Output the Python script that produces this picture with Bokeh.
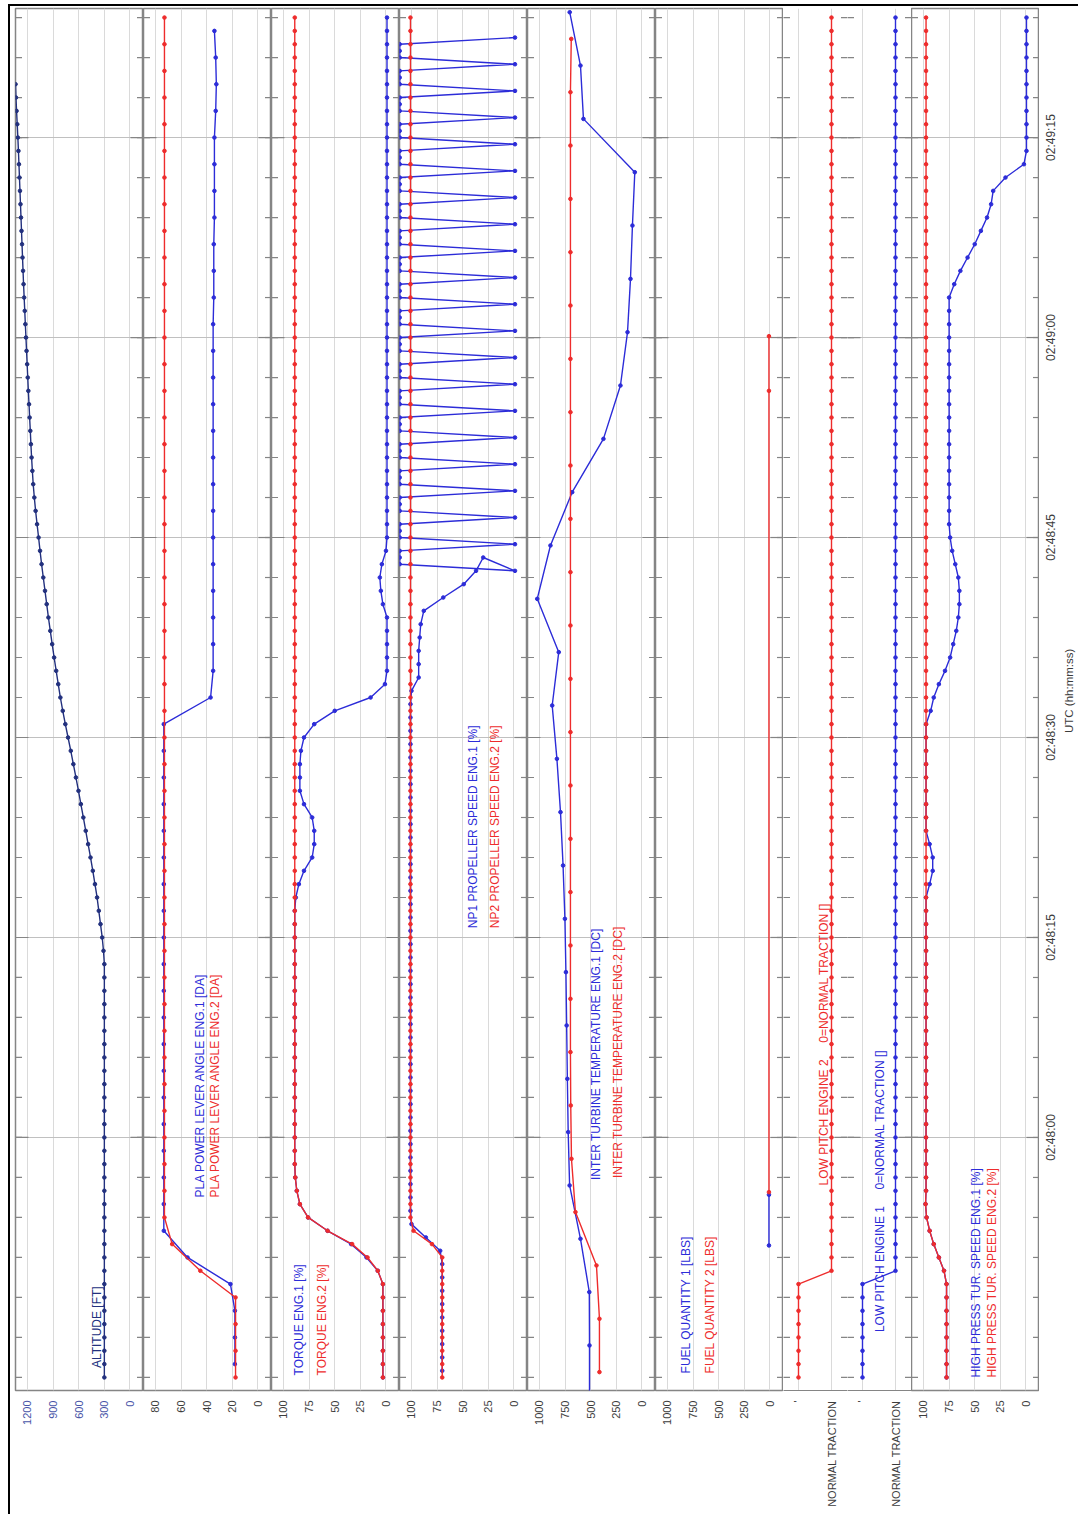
import math
from bokeh.plotting import figure
from bokeh.layouts import row, column
from bokeh.models import Range1d, FixedTicker, Div
from bokeh.core.properties import value
from bokeh.embed import file_html
from bokeh.resources import INLINE

# ---------------- data (time = seconds after 02:48:00 UTC) ----------------
time_ticks = [0, 15, 30, 45, 60, 75]
time_tick_labels = ["02:48:00", "02:48:15", "02:48:30", "02:48:45", "02:49:00", "02:49:15"]
time_minor_ticks = [-18, -15, -12, -9, -6, -3, 0, 3, 6, 9, 12, 15, 18, 21, 24, 27, 30, 33, 36, 39,
                    42, 45, 48, 51, 54, 57, 60, 63, 66, 69, 72, 75, 78, 81, 84]
time_axis_title = "UTC (hh:mm:ss)"

alt_ticks = [1200, 900, 600, 300, 0]
pla_ticks = [80, 60, 40, 20, 0]
pct_ticks = [100, 75, 50, 25, 0]
k_ticks = [1000, 750, 500, 250, 0]
lp_ticks = [1, 0]
lp_tick_labels = ["'", "NORMAL TRACTION"]

altitude_t0 = -18
altitude_ft = [
    300, 300, 300, 300, 300, 300, 300, 300, 300, 300, 300, 300, 300, 300, 300, 300,
    300, 300, 300, 300, 300, 300, 300, 300, 300, 300, 300, 300, 300, 300, 300, 300,
    310, 325, 345, 365, 385, 410, 435, 462, 490, 518, 546, 575, 603, 633, 663, 693,
    725, 757, 787, 815, 840, 864, 888, 911, 933, 955, 975, 995, 1015, 1035, 1053, 1070,
    1088, 1105, 1120, 1133, 1143, 1152, 1160, 1167, 1175, 1182, 1190, 1197, 1204, 1211, 1218, 1225,
    1232, 1239, 1246, 1252, 1258, 1264, 1270, 1276, 1282, 1288, 1294, 1300, 1306, 1313, 1320, 1328,
    1335, 1340]

pla1_t0 = -17   # every 2 s
pla1_deg = [
    18, 18, 18, 21.5, 55, 73.5,
    73.5, 73.5, 73.5, 73.5, 73.5, 73.5, 73.5, 73.5, 73.5, 73.5,
    73.5, 73.5, 73.5, 73.5, 73.5, 73.5, 73.5, 73.5, 73.5,
    37,
    35, 35, 35, 35, 35, 35, 35, 35, 35, 35, 35, 35, 35, 35,
    34.5, 34.5, 34.5, 34, 34, 34, 34, 33, 32.5, 33, 34]
pla2_t0 = -18   # every 2 s
pla2_deg = [
    17.5, 17.5, 17.5, 17.5, 45, 67, 73,
    73, 73, 73, 73, 73, 73, 73, 73, 73, 73, 73, 73, 73, 73, 73,
    73, 73, 73, 73, 73, 73, 73, 73, 73, 73, 73, 73, 73, 73, 73,
    73, 73, 73, 73, 73, 73, 73, 73, 73, 73, 73, 73, 73, 73, 73]

torque_t0 = -18
torque1_pct = [
    3, 3, 3, 3, 3, 3, 3, 3, 8, 19, 34, 57, 76, 84, 87, 88.5,
    89, 89, 89, 89, 89, 89, 89, 89, 89, 89, 89, 89, 89, 89, 89, 89, 89, 89, 89, 89,
    88, 85, 80, 72, 70, 70, 72, 80, 84, 84, 84, 83, 80, 70, 50, 15, 1,
    -1, -1, -1, -1, -1, 3, 5, 6, 4, 0,
    -1, -1, -1, -1, -1, -1, -1, -1, -1, -1, -1, -1, -1, -1, -1, -1, -1, -1, -1, -1,
    -1, -1, -1, -1, -1, -1, -1, -1, -1, -1, -1, -1, -1, -1, -1, -1, -1, -1, -1, -1]
torque2_pct = [
    3, 3, 3, 3, 3, 3, 3, 3, 8, 18, 33, 57, 76, 84, 87, 88.5,
    89, 89, 89, 89, 89, 89, 89, 89, 89, 89, 89, 89, 89, 89, 89, 89, 89, 89, 89, 89,
    89, 89, 89, 89, 89, 89, 89, 89, 89, 89, 89, 89, 89, 89, 89, 89, 89, 89, 89, 89,
    89, 89, 89, 89, 89, 89, 89, 89, 89, 89, 89, 89, 89, 89, 89, 89, 89, 89, 89, 89,
    89, 89, 89, 89, 89, 89, 89, 89, 89, 89, 89, 89, 89, 89, 89, 89, 89, 89, 89, 89,
    89, 89, 89, 89, 89, 89, 89]

np1_t0 = -17.5   # every 1 s
np1_pct = [
    70, 70, 70, 70, 70, 70, 70, 70, 70, 72, 86, 100,
    101, 101, 101, 101, 101, 101, 101, 101, 101, 101, 101, 101, 101, 101, 101, 101, 101,
    101, 101, 101, 101, 101, 101, 101, 101, 101, 101, 101, 101, 101, 101, 101, 101, 101,
    101, 101, 101, 101, 101, 100, 93, 93, 93, 92, 91, 88, 69, 49, 37, 30]
np1_saw_t0 = 42.5   # every 0.5 s
np1_saw_pct = [
    -1, 111.5, 111.5, 111.5, -1, 111.5, 111.5, 111.5, -1, 111.5, 111.5, 111.5,
    -1, 111.5, 111.5, 111.5, -1, 111.5, 111.5, 111.5, -1, 111.5, 111.5, 111.5,
    -1, 111.5, 111.5, 111.5, -1, 111.5, 111.5, 111.5, -1, 111.5, 111.5, 111.5,
    -1, 111.5, 111.5, 111.5, -1, 111.5, 111.5, 111.5, -1, 111.5, 111.5, 111.5,
    -1, 111.5, 111.5, 111.5, -1, 111.5, 111.5, 111.5, -1, 111.5, 111.5, 111.5,
    -1, 111.5, 111.5, 111.5, -1, 111.5, 111.5, 111.5, -1, 111.5, 111.5, 111.5,
    -1, 111.5, 111.5, 111.5, -1, 111.5, 111.5, 111.5, -1]
np2_t0 = -18
np2_pct = [
    70, 70, 70, 70, 70, 70, 70, 70, 70, 70, 80, 98,
    101, 101, 101, 101, 101, 101, 101, 101, 101, 101, 101, 101, 101, 101, 101, 101, 101, 101,
    101, 101, 101, 101, 101, 101, 101, 101, 101, 101, 101, 101, 101, 101, 101, 101, 101, 101,
    101, 101, 101, 101, 101, 101, 101, 101, 101, 101, 101, 101, 101, 101, 101, 101, 101, 101,
    101, 101, 101, 101, 101, 101, 101, 101, 101, 101, 101, 101, 101, 101, 101, 101, 101, 101,
    101, 101, 101, 101, 101, 101, 101, 101, 101, 101, 101, 101, 101, 101, 101, 101, 101, 101,
    101]

itt1_t0 = -19.6   # every 4 s
itt1_dc = [512, 512, 514, 600, 706, 720, 728, 735, 742, 752, 770, 795, 830, 876,
           812, 1022, 893, 681, 376, 210, 141, 112, 93, 70, 571, 600, 705]
itt2_t0 = -17.6   # every 4 s
itt2_dc = [415, 415, 444, 649, 688, 695, 698, 698, 698, 698, 698, 698, 698,
           698, 698, 698, 698, 698, 698, 698, 698, 698, 698, 698, 698, 690]

fuel1_t = [-8.1, -4.3]
fuel1_lbs = [10, 10]
fuel2_t = [-4.1, 56.0, 60.1]
fuel2_lbs = [10, 10, 10]

lp_t0 = -18
lp2_state = [
    1, 1, 1, 1, 1, 1, 1, 1,
    0, 0, 0, 0, 0, 0, 0, 0, 0, 0, 0, 0, 0, 0, 0, 0, 0, 0, 0, 0,
    0, 0, 0, 0, 0, 0, 0, 0, 0, 0, 0, 0, 0, 0, 0, 0, 0, 0, 0, 0,
    0, 0, 0, 0, 0, 0, 0, 0, 0, 0, 0, 0, 0, 0, 0, 0, 0, 0, 0, 0,
    0, 0, 0, 0, 0, 0, 0, 0, 0, 0, 0, 0, 0, 0, 0, 0, 0, 0, 0, 0,
    0, 0, 0, 0, 0, 0, 0, 0, 0, 0, 0, 0, 0, 0, 0]
lp1_state = [
    1, 1, 1, 1, 1, 1, 1, 1,
    0, 0, 0, 0, 0, 0, 0, 0, 0, 0, 0, 0, 0, 0, 0, 0, 0, 0, 0, 0,
    0, 0, 0, 0, 0, 0, 0, 0, 0, 0, 0, 0, 0, 0, 0, 0, 0, 0, 0, 0,
    0, 0, 0, 0, 0, 0, 0, 0, 0, 0, 0, 0, 0, 0, 0, 0, 0, 0, 0, 0,
    0, 0, 0, 0, 0, 0, 0, 0, 0, 0, 0, 0, 0, 0, 0, 0, 0, 0, 0, 0,
    0, 0, 0, 0, 0, 0, 0, 0, 0, 0, 0, 0, 0, 0, 0]

hp_t0 = -18
hp1_pct = [
    77.5, 77.5, 77.5, 77.5, 77.5, 77.5, 77.5, 77.5, 80, 85, 90, 94, 97, 98,
    97.5, 97.5, 97.5, 97.5, 97.5, 97.5, 97.5, 97.5, 97.5, 97.5, 97.5, 97.5,
    97.5, 97.5, 97.5, 97.5, 97.5, 97.5, 97.5, 97.5, 97.5, 97.5, 97.5,
    94, 91, 91, 94,
    97.5, 97.5, 97.5, 97.5, 97.5, 97.5, 97.5, 97.5, 97.5,
    93, 90, 85, 79, 74, 71, 68, 66, 65, 65, 66, 69, 72, 74,
    75, 75, 75, 75, 75, 75, 75, 75, 75, 75, 75, 75, 75, 75, 75, 75, 75, 75,
    70, 64, 57, 50, 44, 38, 34, 32, 20, 2,
    -0.5, -0.5, -0.5, -0.5, -0.5, -0.5, -0.5, -0.5, -0.5, -0.5, -0.5]
hp2_pct = [
    77.5, 77.5, 77.5, 77.5, 77.5, 77.5, 77.5, 77.5, 80, 85, 90, 94, 97, 98,
    97.5, 97.5, 97.5, 97.5, 97.5, 97.5, 97.5, 97.5, 97.5, 97.5, 97.5, 97.5, 97.5, 97.5, 97.5,
    97.5, 97.5, 97.5, 97.5, 97.5, 97.5, 97.5, 97.5, 97.5, 97.5, 97.5, 97.5, 97.5, 97.5, 97.5,
    97.5, 97.5, 97.5, 97.5, 97.5, 97.5, 97.5, 97.5, 97.5, 97.5, 97.5, 97.5, 97.5, 97.5, 97.5,
    97.5, 97.5, 97.5, 97.5, 97.5, 97.5, 97.5, 97.5, 97.5, 97.5, 97.5, 97.5, 97.5, 97.5, 97.5,
    97.5, 97.5, 97.5, 97.5, 97.5, 97.5, 97.5, 97.5, 97.5, 97.5, 97.5, 97.5, 97.5, 97.5, 97.5,
    97.5, 97.5, 97.5, 97.5, 97.5, 97.5, 97.5, 97.5, 97.5, 97.5, 97.5, 97.5, 97.5, 97.5]

# ---------------- style / layout ----------------
FONT = "Liberation Sans"
BLUE = "#2c2cd8"
RED = "#ee2c2c"
NAVY = "#22307e"
SEP = "#858585"
TICK_TXT = "#3c3c3c"
ALT_TICK_TXT = "#4a56a8"
FRAME_H = 1382
TOP = 2
BOTTOM = 124
FIG_H = TOP + FRAME_H + BOTTOM
PANEL_W = 128
TIME_COL_W = 39
Y0, Y1 = -18.98, 84.68
HI, LO = 1.117, -0.132
NB = "\u00a0"
FRAME_W = {}


def times(t0, vals, step=1.0):
    return [t0 + step * i for i in range(len(vals))]


def make_panel(x_start, x_end, ticks, tick_labels, frame_w=PANEL_W, pad_left=0,
               label_color=TICK_TXT, outline=True):
    p = figure(width=frame_w + pad_left, height=FIG_H,
               x_range=Range1d(x_start, x_end), y_range=Range1d(Y0, Y1),
               output_backend="svg", toolbar_location=None, y_axis_location=None,
               min_border_left=pad_left, min_border_right=0,
               min_border_top=TOP, min_border_bottom=BOTTOM)
    p.xaxis.ticker = FixedTicker(ticks=ticks)
    p.xaxis.major_label_overrides = {t: s for t, s in zip(ticks, tick_labels)}
    p.xaxis.major_label_orientation = math.pi / 2
    p.xaxis.major_label_text_font = FONT
    p.xaxis.major_label_text_font_size = "11px"
    p.xaxis.major_label_text_color = label_color
    p.xaxis.major_label_standoff = 4
    p.xaxis.major_tick_line_color = None
    p.xaxis.minor_tick_line_color = None
    p.xaxis.axis_line_color = None if outline else SEP
    p.xgrid.grid_line_color = "#dadada"
    p.ygrid.ticker = FixedTicker(ticks=time_ticks)
    p.ygrid.grid_line_color = "#c0c0c0"
    p.outline_line_color = SEP if outline else None
    p.outline_line_width = 1.5
    for xe in (x_start, x_end):
        p.scatter([xe] * len(time_minor_ticks), time_minor_ticks, marker="dash", size=13,
                  line_color=SEP, line_width=1.2)
        p.scatter([xe] * len(time_ticks), time_ticks, marker="dash", size=26,
                  line_color=SEP, line_width=1.2)
    FRAME_W[id(p)] = frame_w
    return p


def series(p, t, v, color):
    p.line(v, t, line_color=color, line_width=1.4)
    p.scatter(v, t, size=3.6, fill_color=color, line_color=color)


def label(p, px, t, s, color):
    xr = p.x_range
    x = xr.start - px / FRAME_W[id(p)] * (xr.start - xr.end)
    p.text(x=[x], y=[t], text=[s], angle=math.pi / 2, text_align="left",
           text_baseline="middle", text_font=value(FONT), text_font_size="12px",
           text_color=color)


def str_labels(ticks):
    return [str(t) for t in ticks]


f_alt = make_panel(HI * 1200, LO * 1200, alt_ticks, str_labels(alt_ticks), pad_left=5,
                   label_color=ALT_TICK_TXT)
f_pla = make_panel(HI * 80, LO * 80, pla_ticks, str_labels(pla_ticks))
f_trq = make_panel(HI * 100, LO * 100, pct_ticks, str_labels(pct_ticks))
f_np = make_panel(HI * 100, LO * 100, pct_ticks, str_labels(pct_ticks))
f_itt = make_panel(HI * 1000, LO * 1000, k_ticks, str_labels(k_ticks))
f_fuel = make_panel(HI * 1000, LO * 1000, k_ticks, str_labels(k_ticks))
f_lp2 = make_panel(1.4545, -0.4848, lp_ticks, lp_tick_labels, frame_w=64, outline=False)
f_lp1 = make_panel(1.4545, -0.4848, lp_ticks, lp_tick_labels, frame_w=64, outline=False)
f_hp = make_panel(HI * 100, LO * 100, pct_ticks, str_labels(pct_ticks))

# time-axis labels column (UTC), text centred on each time tick
f_time = figure(width=TIME_COL_W, height=FIG_H, x_range=Range1d(0, TIME_COL_W),
                y_range=Range1d(Y0, Y1), output_backend="svg", toolbar_location=None,
                x_axis_location=None, y_axis_location=None,
                min_border_left=0, min_border_right=0, min_border_top=TOP,
                min_border_bottom=BOTTOM)
f_time.outline_line_color = None
f_time.grid.visible = False
f_time.text(x=[11] * len(time_ticks), y=time_ticks, text=time_tick_labels, angle=math.pi / 2,
            text_align="center", text_baseline="middle", text_font=value(FONT),
            text_font_size="12px", text_color=TICK_TXT)
f_time.text(x=[29], y=[33.5], text=[time_axis_title], angle=math.pi / 2,
            text_align="center", text_baseline="middle", text_font=value(FONT),
            text_font_size="11.5px", text_color=TICK_TXT)

# series
series(f_alt, times(altitude_t0, altitude_ft), altitude_ft, NAVY)
series(f_pla, times(pla1_t0, pla1_deg, 2), pla1_deg, BLUE)
series(f_pla, times(pla2_t0, pla2_deg, 2), pla2_deg, RED)
series(f_trq, times(torque_t0, torque1_pct), torque1_pct, BLUE)
series(f_trq, times(torque_t0, torque2_pct), torque2_pct, RED)
np1_all_t = times(np1_t0, np1_pct) + times(np1_saw_t0, np1_saw_pct, 0.5)
series(f_np, np1_all_t, np1_pct + np1_saw_pct, BLUE)
series(f_np, times(np2_t0, np2_pct), np2_pct, RED)
series(f_itt, times(itt1_t0, itt1_dc, 4), itt1_dc, BLUE)
series(f_itt, times(itt2_t0, itt2_dc, 4), itt2_dc, RED)
series(f_fuel, fuel1_t, fuel1_lbs, BLUE)
series(f_fuel, fuel2_t, fuel2_lbs, RED)
series(f_lp2, times(lp_t0, lp2_state), lp2_state, RED)
series(f_lp1, times(lp_t0, lp1_state), lp1_state, BLUE)
series(f_hp, times(hp_t0, hp1_pct), hp1_pct, BLUE)
series(f_hp, times(hp_t0, hp2_pct), hp2_pct, RED)

# in-panel labels
label(f_alt, 81, -17.3, "ALTITUDE [FT]", NAVY)
label(f_pla, 56, -4.5, "PLA POWER LEVER ANGLE ENG.1 [DA]", BLUE)
label(f_pla, 71, -4.5, "PLA POWER LEVER ANGLE ENG.2 [DA]", RED)
label(f_trq, 27, -17.85, "TORQUE ENG.1 [%]", BLUE)
label(f_trq, 50, -17.85, "TORQUE ENG.2 [%]", RED)
label(f_np, 73, 15.7, "NP1 PROPELLER SPEED ENG.1 [%]", BLUE)
label(f_np, 95, 15.7, "NP2 PROPELLER SPEED ENG.2 [%]", RED)
label(f_itt, 68, -3.2, "INTER TURBINE TEMPERATURE ENG.1 [DC]", BLUE)
label(f_itt, 90, -3.05, "INTER TURBINE TEMPERATURE ENG.2 [DC]", RED)
label(f_fuel, 30, -17.7, "FUEL QUANTITY 1 [LBS]", BLUE)
label(f_fuel, 54, -17.7, "FUEL QUANTITY 2 [LBS]", RED)
label(f_lp2, 40, -3.6, "LOW PITCH ENGINE 2" + NB * 5 + "0=NORMAL TRACTION []", RED)
label(f_lp1, 32.5, -14.6, "LOW PITCH ENGINE 1" + NB * 5 + "0=NORMAL TRACTION []", BLUE)
label(f_hp, 64, -18.0, "HIGH PRESS TUR. SPEED ENG.1 [%]", BLUE)
label(f_hp, 80, -18.0, "HIGH PRESS TUR. SPEED ENG.2 [%]", RED)

figs = [f_alt, f_pla, f_trq, f_np, f_itt, f_fuel, f_lp2, f_lp1, f_hp, f_time]
LEFT_GAP = 8
fig_w = sum(f.width for f in figs)
top_space = Div(text="", width=LEFT_GAP + 2 + fig_w, height=4, margin=(0, 0, 0, 0))
top_row = row(Div(text="", width=LEFT_GAP, height=2, margin=(0, 0, 0, 0)),
              Div(text="", width=2 + fig_w, height=2, margin=(0, 0, 0, 0),
                  styles={"background-color": "black"}))
main_row = row(Div(text="", width=LEFT_GAP, height=FIG_H, margin=(0, 0, 0, 0)),
               Div(text="", width=2, height=FIG_H, margin=(0, 0, 0, 0),
                   styles={"background-color": "black"}),
               *figs)
layout = column(top_space, top_row, main_row)

open("out.html", "w").write(file_html(layout, INLINE))
